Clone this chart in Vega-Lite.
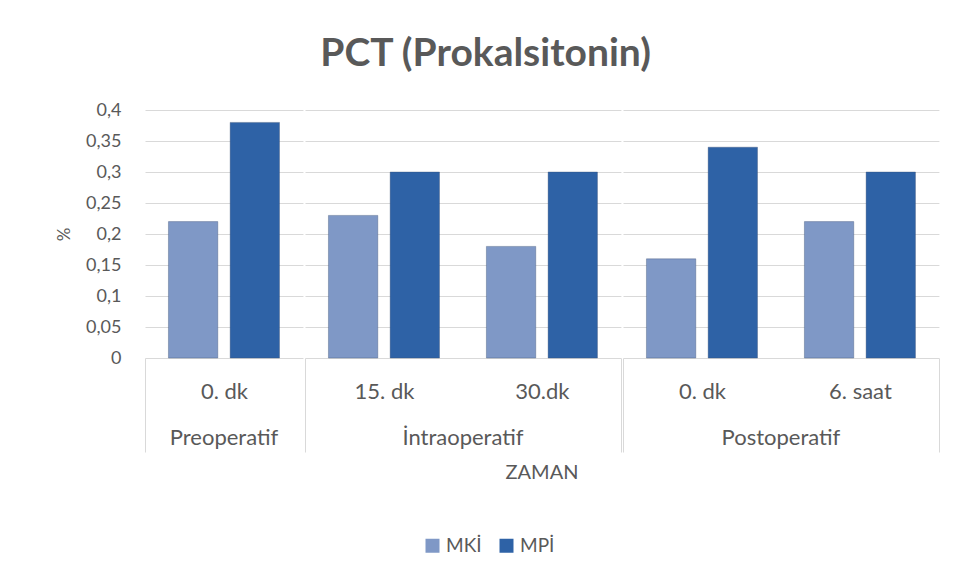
{
  "$schema": "https://vega.github.io/schema/vega-lite/v6.json",
  "background": "white",
  "padding": {"left": 55, "top": 35, "right": 20, "bottom": 10},
  "title": {"text": "PCT (Prokalsitonin)", "font": "Lato", "fontSize": 39, "fontWeight": "bold", "color": "#595959", "anchor": "middle", "offset": 27, "dx": -12},
  "data": {"values": [
    {"phase": "Preoperatif", "time": "0. dk", "group": "MKİ", "value": 0.22},
    {"phase": "Preoperatif", "time": "0. dk", "group": "MPİ", "value": 0.38},
    {"phase": "İntraoperatif", "time": "15. dk", "group": "MKİ", "value": 0.23},
    {"phase": "İntraoperatif", "time": "15. dk", "group": "MPİ", "value": 0.30},
    {"phase": "İntraoperatif", "time": "30.dk", "group": "MKİ", "value": 0.18},
    {"phase": "İntraoperatif", "time": "30.dk", "group": "MPİ", "value": 0.30},
    {"phase": "Postoperatif", "time": "0. dk", "group": "MKİ", "value": 0.16},
    {"phase": "Postoperatif", "time": "0. dk", "group": "MPİ", "value": 0.34},
    {"phase": "Postoperatif", "time": "6. saat", "group": "MKİ", "value": 0.22},
    {"phase": "Postoperatif", "time": "6. saat", "group": "MPİ", "value": 0.30}
  ]},
  "facet": {
    "column": {
      "field": "phase", "type": "nominal",
      "sort": ["Preoperatif", "İntraoperatif", "Postoperatif"],
      "title": "ZAMAN",
      "header": {
        "labelOrient": "bottom", "titleOrient": "bottom",
        "labelFont": "Lato", "labelFontSize": 22, "labelColor": "#595959", "labelPadding": -25,
        "titleFont": "Lato", "titleFontSize": 20, "titleFontWeight": "normal", "titleColor": "#595959", "titlePadding": 0
      }
    }
  },
  "spacing": 0,
  "spec": {
    "width": {"step": 61.7},
    "height": 248,
    "mark": {"type": "bar", "stroke": "#3b4f72", "strokeWidth": 0.6, "strokeOpacity": 0.6},
    "encoding": {
      "x": {
        "field": "time", "type": "nominal", "sort": null,
        "scale": {"paddingInner": 0, "paddingOuter": 0},
        "axis": {
          "title": null, "labelAngle": 0, "domain": false, "grid": false,
          "ticks": true, "tickBand": "extent", "tickSize": 94,
          "tickColor": {"condition": {"test": "datum.index === 0", "value": "transparent"}, "value": "#d9d9d9"},
          "labelPadding": -71, "labelFont": "Lato", "labelFontSize": 22, "labelColor": "#595959"
        }
      },
      "xOffset": {"field": "group", "type": "nominal", "scale": {"paddingInner": 0.2, "paddingOuter": 0.38}},
      "y": {
        "field": "value", "type": "quantitative",
        "scale": {"domain": [0, 0.4]},
        "axis": {
          "title": "%", "titleFont": "Lato", "titleFontSize": 17, "titleFontWeight": "normal", "titleColor": "#595959", "titlePadding": 12,
          "values": [0, 0.05, 0.1, 0.15, 0.2, 0.25, 0.3, 0.35, 0.4],
          "labelExpr": "replace(format(datum.value, '.2~f'), '.', ',')",
          "ticks": false, "domain": false, "gridColor": "#d9d9d9", "labelPadding": 23,
          "labelFont": "Lato", "labelFontSize": 18, "labelColor": "#595959"
        }
      },
      "color": {
        "field": "group", "type": "nominal",
        "scale": {"domain": ["MKİ", "MPİ"], "range": ["#7f98c6", "#2e62a6"]},
        "legend": {
          "title": null, "orient": "none", "direction": "horizontal", "legendX": 278, "legendY": 426,
          "symbolType": "square", "symbolSize": 196, "symbolStrokeWidth": 0, "labelOffset": 4,
          "labelFont": "Lato", "labelFontSize": 19, "labelColor": "#595959", "columnPadding": 15
        }
      }
    }
  },
  "resolve": {"scale": {"x": "independent"}},
  "config": {"view": {"stroke": null}}
}
